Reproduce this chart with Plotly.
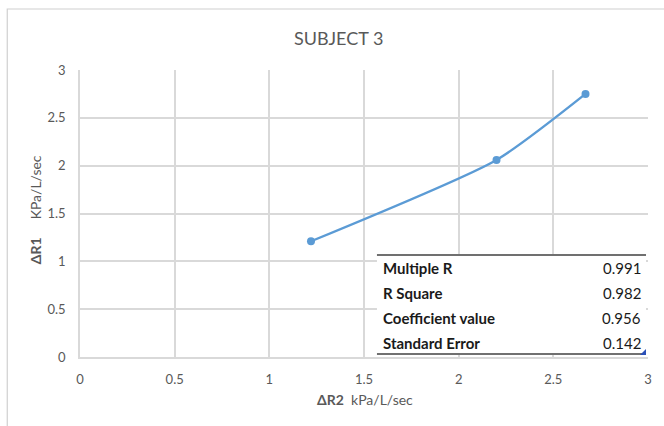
import plotly.graph_objects as go

# Measurements for subject 3
delta_r2 = [1.22, 2.20, 2.67]
delta_r1 = [1.21, 2.06, 2.75]

# Regression statistics table
stat_labels = ["Multiple R", "R Square", "Coefficient value", "Standard Error"]
stat_values = ["0.991", "0.982", "0.956", "0.142"]

x_ticks = [0, 0.5, 1, 1.5, 2, 2.5, 3]
x_tick_text = ["0", "0.5", "1", "1.5", "2", "2.5", "3"]
y_ticks = [0, 0.5, 1, 1.5, 2, 2.5, 3]
y_tick_text = ["0", "0.5", "1", "1.5", "2", "2.5", "3"]

FONT = "Lato, Open Sans, sans-serif"
GRID = "#d9d9d9"
TEXT = "#595959"
BLUE = "#5b9bd5"

W, H = 664, 426
L, R, T, B = 80, 14, 70, 69
pw, ph = W - L - R, H - T - B


def px(x):
    return (x - L) / pw


def py(y):
    return (H - B - y) / ph


fig = go.Figure()
fig.add_trace(go.Scatter(
    x=delta_r2, y=delta_r1, mode="lines+markers",
    line=dict(color=BLUE, width=2.4, shape="spline", smoothing=0.6),
    marker=dict(color=BLUE, size=8),
    showlegend=False, hoverinfo="x+y",
))

shapes = []
# outer chart frame
shapes.append(dict(type="rect", xref="paper", yref="paper",
                   x0=px(7), x1=px(700), y0=py(440), y1=py(9),
                   line=dict(color="#d0d0d0", width=1.2), fillcolor="rgba(0,0,0,0)",
                   layer="below"))
# statistics table box
t_left, t_right, t_top, t_bot = 378, 648, 255, 354
shapes.append(dict(type="rect", xref="paper", yref="paper",
                   x0=px(t_left), x1=px(t_right), y0=py(t_bot), y1=py(t_top),
                   line=dict(width=0), fillcolor="white", layer="above"))
for yy in (t_top, t_bot):
    shapes.append(dict(type="line", xref="paper", yref="paper",
                       x0=px(t_left), x1=px(t_right), y0=py(yy), y1=py(yy),
                       line=dict(color="#707070", width=2)))
# small selection handle at the corner
shapes.append(dict(type="path", xref="paper", yref="paper",
                   path=f"M {px(642)} {py(355)} L {px(648)} {py(355)} L {px(648)} {py(349)} Z",
                   fillcolor="#2a4fb8", line=dict(width=0)))

annotations = [
    dict(text="SUBJECT 3", x=px(339), y=py(38), xref="paper", yref="paper",
         showarrow=False, font=dict(family=FONT, size=18, color=TEXT),
         xanchor="center", yanchor="middle"),
    dict(text="<b>ΔR2</b>  kPa/L/sec", x=px(366), y=py(400), xref="paper", yref="paper",
         showarrow=False, font=dict(family=FONT, size=14, color=TEXT),
         xanchor="center", yanchor="middle"),
    dict(text="<b>ΔR1</b>     KPa/L/sec", x=px(35), y=py(210), xref="paper", yref="paper",
         showarrow=False, textangle=-90, font=dict(family=FONT, size=14, color=TEXT),
         xanchor="center", yanchor="middle"),
]
row_y = [268, 293, 318, 343]
for lab, val, yy in zip(stat_labels, stat_values, row_y):
    annotations.append(dict(text=f"<b>{lab}</b>", x=px(382), y=py(yy), xref="paper", yref="paper",
                            showarrow=False, xanchor="left", yanchor="middle",
                            font=dict(family=FONT, size=15, color="#1a1a1a")))
    annotations.append(dict(text=val, x=px(645), y=py(yy), xref="paper", yref="paper",
                            showarrow=False, xanchor="right", yanchor="middle",
                            font=dict(family=FONT, size=15, color="#1a1a1a")))

fig.update_layout(
    width=W, height=H,
    margin=dict(l=L, r=R, t=T, b=B),
    paper_bgcolor="white", plot_bgcolor="white",
    shapes=shapes, annotations=annotations,
    xaxis=dict(range=[0, 3], tickvals=x_ticks, ticktext=x_tick_text,
               showgrid=True, gridcolor=GRID, gridwidth=1.5,
               showline=True, linecolor=GRID, linewidth=1.5, mirror=False,
               zeroline=False, ticks="", ticklen=0, ticklabelstandoff=10,
               tickfont=dict(family=FONT, size=13, color=TEXT)),
    yaxis=dict(range=[0, 3], tickvals=y_ticks, ticktext=y_tick_text,
               showgrid=True, gridcolor=GRID, gridwidth=1.5,
               showline=True, linecolor=GRID, linewidth=1.5,
               zeroline=False, ticks="", ticklen=0, ticklabelstandoff=10,
               tickfont=dict(family=FONT, size=13, color=TEXT)),
)

fig.write_html("out.html")
